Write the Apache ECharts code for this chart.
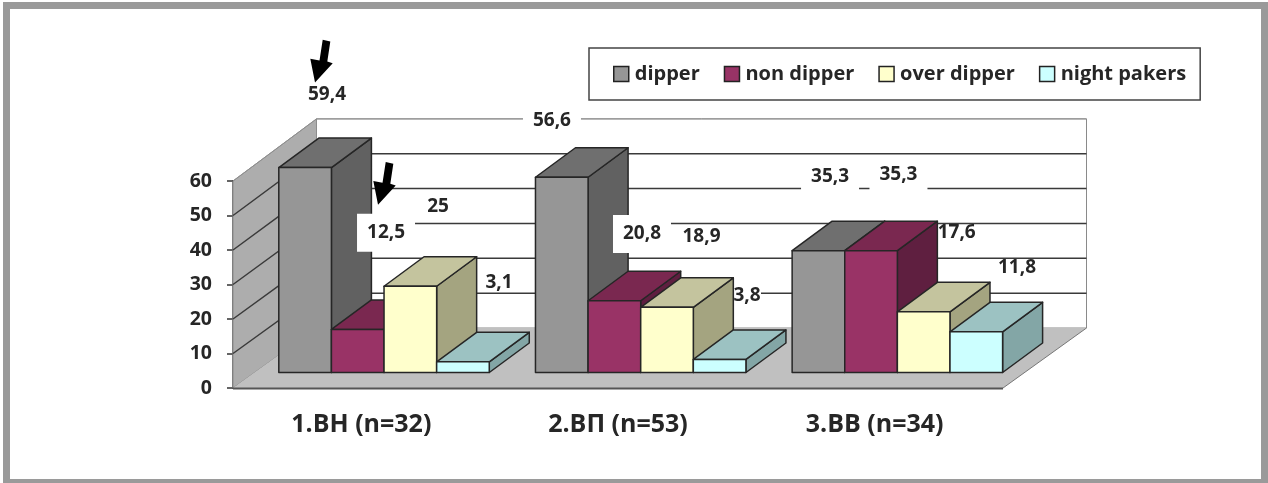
<!DOCTYPE html>
<html>
<head>
<meta charset="utf-8">
<style>html,body{margin:0;padding:0;background:#fff}#chart{width:1268px;height:483px}</style>
<script src="https://cdn.jsdelivr.net/npm/echarts@6/dist/echarts.min.js"></script>
</head>
<body>
<div id="chart"></div>
<script>
// Dipping profile shares by group, percent
const categories = ['1.ВН (n=32)', '2.ВП (n=53)', '3.ВВ (n=34)'];
const dipper = [59.4, 56.6, 35.3];
const nonDipper = [12.5, 20.8, 35.3];
const overDipper = [25, 18.9, 17.6];
const nightPakers = [3.1, 3.8, 11.8];
const seriesNames = ['dipper', 'non dipper', 'over dipper', 'night pakers'];
const gridValues = [0, 10, 20, 30, 40, 50, 60];

// Pseudo-3D layout, in pixels
const WALL_DX = 83.5, WALL_DY = -60, WALL_STRETCH = 0.035;
const BAR_FRONT_DX = 22.7, BAR_FRONT_DY = -15.5;
const BAR_DEPTH_DX = 40, BAR_DEPTH_DY = -29.5;
const BAR_SHARE = 0.205;
const EDGE = '#262626';

const palette = [
  { front: '#969696', top: '#6f6f6f', side: '#616161' },
  { front: '#993366', top: '#7a2850', side: '#5f1f40' },
  { front: '#ffffcc', top: '#c4c49e', side: '#a4a480' },
  { front: '#ccffff', top: '#9cc2c2', side: '#83a6a6' }
];

const values = [dipper, nonDipper, overDipper, nightPakers];

// Label placement relative to the top centre of each bar's front face, with optional white box
const labelLayout = [
  [{ dx: 21.9, dy: -73.1 }, { dx: -9.8, dy: -56.7, box: [58, 30] }, { dx: 11.6, dy: -73.7, box: [58, 32] }],
  [{ dx: 28.3, dy: -96.7, box: [58, 38], front: true }, { dx: 27.6, dy: -66.7, box: [58, 38], front: true }, { dx: 27.4, dy: -75.7, box: [58, 34] }],
  [{ dx: 27.7, dy: -79.5 }, { dx: 34.5, dy: -70.3 }, { dx: 33, dy: -79.1 }],
  [{ dx: 36.1, dy: -79.1 }, { dx: 27.4, dy: -63.4, box: [28, 26] }, { dx: 40.7, dy: -64.1 }]
];

const FONT_LABEL = 'bold 19px "Open Sans"';
const ARROW = [[7.7, -42.7], [15.3, -41], [12.3, -21], [17.7, -19.3], [0, 0], [-4.7, -23.7], [4.5, -22]];

function plotSpan(api) {
  const band = api.size([1, 0])[0];
  return {
    left: api.coord([0, 0])[0] - band / 2,
    right: api.coord([categories.length - 1, 0])[0] + band / 2
  };
}

function renderWalls(params, api) {
  const s = plotSpan(api);
  const y0 = api.coord([0, 0])[1];
  const top = api.coord([0, 60])[1];
  const backTop = top + WALL_DY - 60 * WALL_STRETCH;
  const backBottom = y0 + WALL_DY;
  return {
    type: 'group',
    children: [
      { type: 'rect', shape: { x: s.left + WALL_DX, y: backTop, width: s.right - s.left, height: backBottom - backTop },
        style: { fill: '#fff', stroke: '#8a8a8a', lineWidth: 1 } },
      { type: 'polygon', shape: { points: [[s.left, top], [s.left + WALL_DX, backTop], [s.left + WALL_DX, backBottom], [s.left, y0]] },
        style: { fill: '#adadad', stroke: '#8c8c8c', lineWidth: 1 } },
      { type: 'polygon', shape: { points: [[s.left, y0], [s.right, y0], [s.right + WALL_DX, backBottom], [s.left + WALL_DX, backBottom]] },
        style: { fill: '#c0c0c0', stroke: null } },
      { type: 'line', shape: { x1: s.left, y1: y0 + 0.5, x2: s.right, y2: y0 + 0.5 },
        style: { stroke: '#555', lineWidth: 2 } },
      { type: 'line', shape: { x1: s.right, y1: y0, x2: s.right + WALL_DX, y2: backBottom },
        style: { stroke: '#777', lineWidth: 1 } }
    ]
  };
}

function renderGridline(params, api) {
  const v = api.value(1);
  if (v === 0) return null;
  const s = plotSpan(api);
  const y = api.coord([0, v])[1];
  const backY = y + WALL_DY - v * WALL_STRETCH;
  const isTop = v === 60;
  const style = { stroke: isTop ? '#8f8f8f' : '#3a3a3a', lineWidth: isTop ? 1 : 1.5, fill: null };
  return {
    type: 'polyline',
    shape: { points: [[s.left, y], [s.left + WALL_DX, backY], [s.right + WALL_DX, backY]] },
    style
  };
}

function renderBar(seriesIndex) {
  return function (params, api) {
    const cat = api.value(0), v = api.value(1);
    const band = api.size([1, 0])[0];
    const w = band * BAR_SHARE;
    const base = api.coord([cat, 0]);
    const head = api.coord([cat, v]);
    const x0 = base[0] + BAR_FRONT_DX + w * (seriesIndex - 2);
    const x1 = x0 + w;
    const yB = base[1] + BAR_FRONT_DY;
    const yT = head[1] + BAR_FRONT_DY;
    const c = palette[seriesIndex];
    const edge = { stroke: EDGE, lineWidth: 1.5, lineJoin: 'round' };
    return {
      type: 'group',
      children: [
        { type: 'polygon', shape: { points: [[x1, yB], [x1 + BAR_DEPTH_DX, yB + BAR_DEPTH_DY], [x1 + BAR_DEPTH_DX, yT + BAR_DEPTH_DY], [x1, yT]] },
          style: Object.assign({ fill: c.side }, edge) },
        { type: 'polygon', shape: { points: [[x0, yT], [x1, yT], [x1 + BAR_DEPTH_DX, yT + BAR_DEPTH_DY], [x0 + BAR_DEPTH_DX, yT + BAR_DEPTH_DY]] },
          style: Object.assign({ fill: c.top }, edge) },
        { type: 'rect', shape: { x: x0, y: yT, width: w, height: yB - yT },
          style: Object.assign({ fill: c.front }, edge) }
      ]
    };
  };
}

function formatValue(v) {
  return String(v).replace('.', ',');
}

function labelPoint(api, s, cat, v) {
  const band = api.size([1, 0])[0];
  const w = band * BAR_SHARE;
  const base = api.coord([cat, 0]);
  const head = api.coord([cat, v]);
  const layout = labelLayout[s][cat];
  return [
    base[0] + BAR_FRONT_DX + w * (s - 1.5) + layout.dx,
    head[1] + BAR_FRONT_DY + layout.dy
  ];
}

function renderLabel(params, api) {
  const cat = api.value(0), v = api.value(1), s = api.value(2);
  const layout = labelLayout[s][cat];
  const p = labelPoint(api, s, cat, v);
  const children = [];
  if (layout.box) {
    children.push({ type: 'rect',
      shape: { x: p[0] - layout.box[0] / 2, y: p[1] - layout.box[1] / 2, width: layout.box[0], height: layout.box[1] },
      style: { fill: '#fff' } });
  }
  children.push({ type: 'text',
    style: { x: p[0], y: p[1], text: formatValue(v), textAlign: 'center', textVerticalAlign: 'middle', font: FONT_LABEL, fill: '#262626' } });
  return { type: 'group', children };
}

// Arrows point down at the two first-group labels they annotate
function renderArrow(params, api) {
  const cat = api.value(0), v = api.value(1), s = api.value(2);
  const p = labelPoint(api, s, cat, v);
  const tipX = p[0] + api.value(3), tipY = p[1] + api.value(4);
  return { type: 'polygon',
    shape: { points: ARROW.map(a => [tipX + a[0], tipY + a[1]]) },
    style: { fill: '#000' } };
}

const labelRows = [];
values.forEach((row, s) => row.forEach((v, cat) => labelRows.push({ cat, v, s })));
const rowsFor = front => labelRows
  .filter(r => !!labelLayout[r.s][r.cat].front === front)
  .map(r => [r.cat, r.v, r.s]);

const barSeries = values.map((row, s) => ({
  type: 'custom',
  name: seriesNames[s],
  coordinateSystem: 'cartesian2d',
  z: 4,
  itemStyle: { color: palette[s].front },
  encode: { x: 0, y: 1 },
  renderItem: renderBar(s),
  data: row.map((v, cat) => [cat, v])
}));

const option = {
  animation: false,
  backgroundColor: '#fff',
  graphic: [{
    type: 'rect', silent: true, z: 10,
    shape: { x: 6.5, y: 5.5, width: 1258, height: 477 },
    style: { fill: null, stroke: '#9a9a9a', lineWidth: 7 }
  }],
  legend: {
    left: 589, top: 48,
    padding: [16, 14, 16, 24],
    backgroundColor: '#fff',
    borderColor: '#444',
    borderWidth: 1.5,
    borderRadius: 0,
    itemWidth: 15, itemHeight: 15, itemGap: 24,
    icon: 'rect',
    selectedMode: false,
    itemStyle: { borderColor: '#222', borderWidth: 1.5 },
    textStyle: { fontFamily: 'Open Sans', fontWeight: 'bold', fontSize: 20, color: '#262626', padding: [0, 0, 0, 1] },
    data: seriesNames
  },
  grid: { left: 233, right: 265, top: 181, bottom: 95, containLabel: false },
  xAxis: {
    type: 'category',
    data: categories,
    axisLine: { show: false },
    axisTick: { show: false },
    splitLine: { show: false },
    axisLabel: { margin: 24, fontFamily: 'Open Sans', fontWeight: 'bold', fontSize: 25, color: '#262626' }
  },
  yAxis: {
    type: 'value',
    min: 0, max: 60, interval: 10,
    splitLine: { show: false },
    axisLine: { show: true, lineStyle: { color: '#444', width: 1.5 } },
    axisTick: { show: true, length: 6, lineStyle: { color: '#333', width: 1.5 } },
    axisLabel: { margin: 21, fontFamily: 'Open Sans', fontWeight: 'bold', fontSize: 19.5, color: '#262626' }
  },
  series: [
    { type: 'custom', coordinateSystem: 'cartesian2d', z: 1, silent: true, encode: { x: 0, y: 1 },
      renderItem: renderWalls, data: [[0, 0]] },
    { type: 'custom', coordinateSystem: 'cartesian2d', z: 2, silent: true, encode: { x: 0, y: 1 },
      renderItem: renderGridline, data: gridValues.map(v => [0, v]) },
    { type: 'custom', coordinateSystem: 'cartesian2d', z: 3, silent: true, encode: { x: 0, y: 1 },
      renderItem: renderLabel, data: rowsFor(false) },
    ...barSeries,
    { type: 'custom', coordinateSystem: 'cartesian2d', z: 5, silent: true, encode: { x: 0, y: 1 },
      renderItem: renderLabel, data: rowsFor(true) },
    { type: 'custom', coordinateSystem: 'cartesian2d', z: 6, silent: true, encode: { x: 0, y: 1 },
      renderItem: renderArrow,
      data: [[0, dipper[0], 0, -12, -12], [0, nonDipper[0], 1, -8, -28]] }
  ]
};

echarts.init(document.getElementById('chart'), null, { renderer: 'canvas' }).setOption(option);
</script>
</body>
</html>
